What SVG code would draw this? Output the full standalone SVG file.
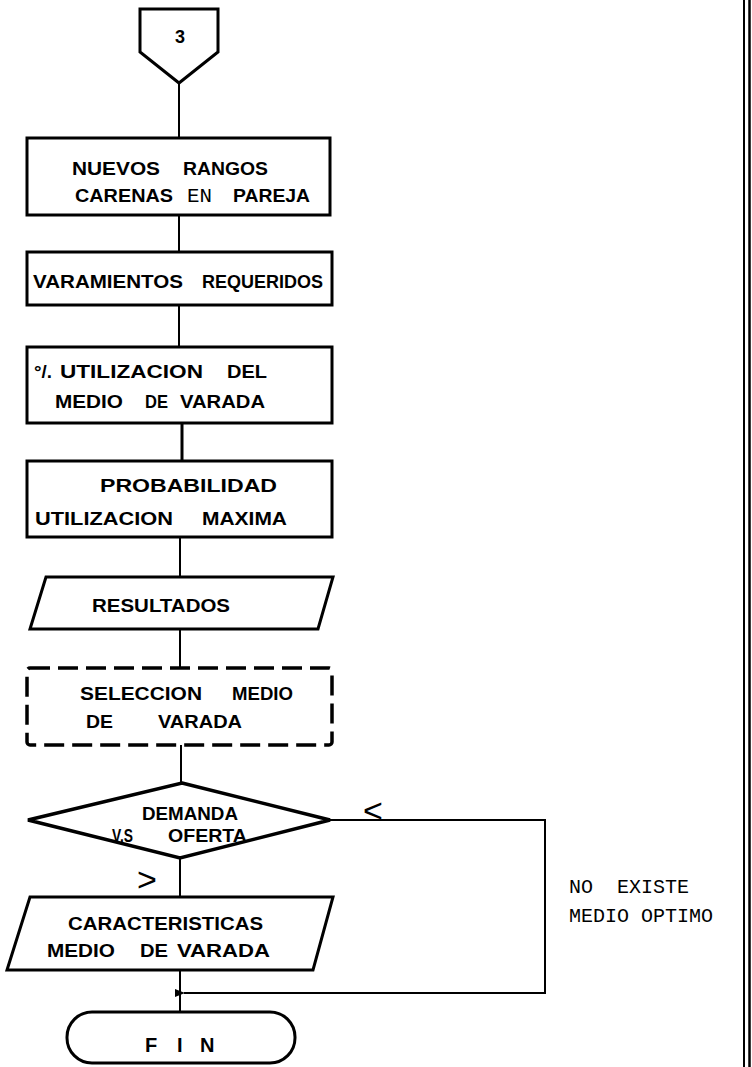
<svg xmlns="http://www.w3.org/2000/svg" width="752" height="1067" viewBox="0 0 752 1067">
<style>
.box{fill:#fff;stroke:#000;stroke-width:3;stroke-linejoin:miter}
.dash{fill:none;stroke:#000;stroke-width:3.5;stroke-dasharray:20 8}
.ln{fill:none;stroke:#000;stroke-width:2}
.t{font-family:"Liberation Sans","DejaVu Sans",sans-serif;font-size:19px;font-weight:bold;fill:#000}
.m{font-family:"Liberation Mono","DejaVu Sans Mono",monospace;font-size:20px;fill:#000}
</style>
<defs>
<marker id="ah" markerWidth="10" markerHeight="8" refX="1" refY="4" orient="auto" markerUnits="userSpaceOnUse">
<path d="M10,0 L0,4 L10,8 Z" fill="#000"/>
</marker>
</defs>
<rect width="752" height="1067" fill="#fff"/>
<g id="connectors">
<line class="ln" x1="179" y1="83" x2="179" y2="138"/>
<line class="ln" x1="179" y1="215" x2="179" y2="252"/>
<line class="ln" x1="179" y1="305" x2="179" y2="347"/>
<line class="ln" x1="182" y1="423" x2="182" y2="461" style="stroke-width:3"/>
<line class="ln" x1="180" y1="537" x2="180" y2="577"/>
<line class="ln" x1="180" y1="629" x2="180" y2="668"/>
<line class="ln" x1="181" y1="745" x2="181" y2="783"/>
<line class="ln" x1="180" y1="858" x2="180" y2="897"/>
<line class="ln" x1="180" y1="970" x2="180" y2="1012"/>
<polyline class="ln" points="330,820 545,820 545,993 184,993" marker-end="url(#ah)"/>
<text class="t" x="363" y="822" style="font-size:34px;font-weight:normal">&lt;</text>
<text class="t" x="137" y="891" style="font-size:34px;font-weight:normal">&gt;</text>
</g>
<g id="start">
<polygon class="box" points="140,9 218,9 218,52 179,83 140,52"/>
<text class="t" x="180" y="43" text-anchor="middle" style="font-size:18px">3</text>
</g>
<g id="n1">
<rect class="box" x="27" y="138" width="303" height="77"/>
<text class="t" x="72" y="175" textLength="88" lengthAdjust="spacingAndGlyphs">NUEVOS</text>
<text class="t" x="183" y="175" textLength="85" lengthAdjust="spacingAndGlyphs">RANGOS</text>
<text class="t" x="75" y="202" textLength="98" lengthAdjust="spacingAndGlyphs">CARENAS</text>
<text class="m" x="187" y="202" textLength="25" lengthAdjust="spacingAndGlyphs">EN</text>
<text class="t" x="233" y="202" textLength="77" lengthAdjust="spacingAndGlyphs">PAREJA</text>
</g>
<g id="n2">
<rect class="box" x="27" y="252" width="305" height="53"/>
<text class="t" x="33" y="288" textLength="150" lengthAdjust="spacingAndGlyphs">VARAMIENTOS</text>
<text class="t" x="202" y="288" textLength="121" lengthAdjust="spacingAndGlyphs">REQUERIDOS</text>
</g>
<g id="n3">
<rect class="box" x="27" y="347" width="305" height="76"/>
<text class="t" x="34" y="378" textLength="18" lengthAdjust="spacingAndGlyphs">°/.</text>
<text class="t" x="60" y="378" textLength="143" lengthAdjust="spacingAndGlyphs">UTILIZACION</text>
<text class="t" x="227" y="378" textLength="40" lengthAdjust="spacingAndGlyphs">DEL</text>
<text class="t" x="55" y="408" textLength="68" lengthAdjust="spacingAndGlyphs">MEDIO</text>
<text class="t" x="145" y="408" textLength="23" lengthAdjust="spacingAndGlyphs">DE</text>
<text class="t" x="180" y="408" textLength="85" lengthAdjust="spacingAndGlyphs">VARADA</text>
</g>
<g id="n4">
<rect class="box" x="27" y="461" width="305" height="76"/>
<text class="t" x="100" y="492" textLength="177" lengthAdjust="spacingAndGlyphs">PROBABILIDAD</text>
<text class="t" x="35" y="525" textLength="138" lengthAdjust="spacingAndGlyphs">UTILIZACION</text>
<text class="t" x="202" y="525" textLength="85" lengthAdjust="spacingAndGlyphs">MAXIMA</text>
</g>
<g id="n5">
<polygon class="box" points="46,577 333,577 318,629 30,629"/>
<text class="t" x="92" y="612" textLength="138" lengthAdjust="spacingAndGlyphs">RESULTADOS</text>
</g>
<g id="n6">
<rect class="dash" x="27" y="668" width="305" height="77" rx="3"/>
<text class="t" x="80" y="700" textLength="122" lengthAdjust="spacingAndGlyphs">SELECCION</text>
<text class="t" x="232" y="700" textLength="61" lengthAdjust="spacingAndGlyphs">MEDIO</text>
<text class="t" x="86" y="728" textLength="27" lengthAdjust="spacingAndGlyphs">DE</text>
<text class="t" x="158" y="728" textLength="84" lengthAdjust="spacingAndGlyphs">VARADA</text>
</g>
<g id="n7">
<polygon class="box" points="182,783 330,820 180,858 28,820" style="stroke-width:3.5"/>
<text class="t" x="142" y="820" textLength="96" lengthAdjust="spacingAndGlyphs" style="font-size:18px">DEMANDA</text>
<text class="t" x="112" y="842" textLength="21" lengthAdjust="spacingAndGlyphs" style="font-size:18px">V.S</text>
<text class="t" x="168" y="842" textLength="79" lengthAdjust="spacingAndGlyphs" style="font-size:18px">OFERTA</text>
</g>
<g id="n8">
<polygon class="box" points="30,897 333,897 313,970 7,970"/>
<text class="t" x="68" y="930" textLength="195" lengthAdjust="spacingAndGlyphs">CARACTERISTICAS</text>
<text class="t" x="47" y="957" textLength="68" lengthAdjust="spacingAndGlyphs">MEDIO</text>
<text class="t" x="140" y="957" textLength="28" lengthAdjust="spacingAndGlyphs">DE</text>
<text class="t" x="177" y="957" textLength="93" lengthAdjust="spacingAndGlyphs">VARADA</text>
</g>
<g id="end">
<rect class="box" x="67" y="1012" width="228" height="51" rx="25"/>
<text class="t" x="145" y="1052" style="font-size:20px">F</text>
<text class="t" x="177" y="1052" style="font-size:20px">I</text>
<text class="t" x="200" y="1052" style="font-size:20px">N</text>
</g>
<g id="note">
<text class="m" x="569" y="893" xml:space="preserve">NO  EXISTE</text>
<text class="m" x="569" y="922">MEDIO OPTIMO</text>
</g>
<g id="border">
<line x1="744" y1="0" x2="744" y2="1067" stroke="#000" stroke-width="2"/>
<line x1="749.5" y1="0" x2="749.5" y2="1067" stroke="#000" stroke-width="2.5"/>
</g>
</svg>
